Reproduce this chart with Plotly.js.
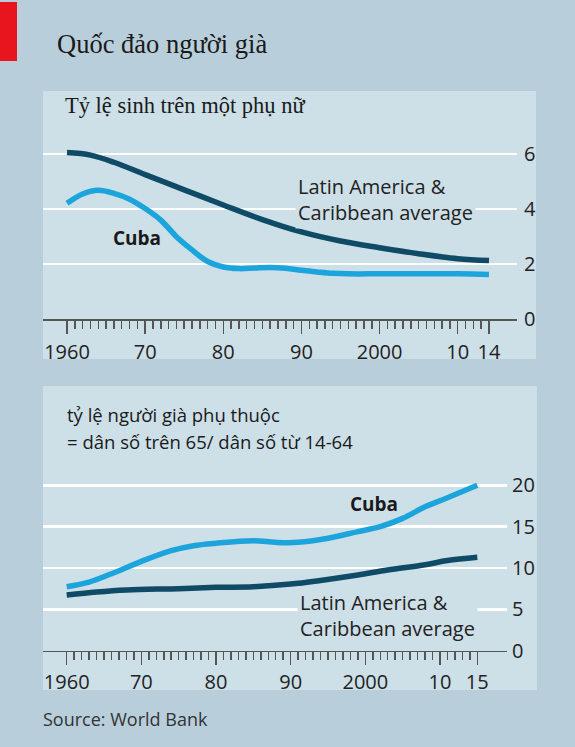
<!DOCTYPE html>
<html>
<head>
<meta charset="utf-8">
<script src="https://cdn.plot.ly/plotly-3.0.1.min.js"></script>
<style>html,body{margin:0;padding:0;background:#b8cfdb;}#chart{width:575px;height:747px;}</style>
</head>
<body>
<div id="chart"></div>
<script>
// ---- Data ----
const fertCubaYears = [1960,1962,1964,1966,1968,1970,1972,1974,1976,1978,1980,1982,1984,1986,1988,1990,1992,1994,1996,2000,2005,2010,2014];
const fertCuba      = [4.21,4.55,4.68,4.57,4.36,4.02,3.6,3.0,2.52,2.1,1.9,1.84,1.86,1.88,1.85,1.78,1.72,1.67,1.65,1.65,1.65,1.65,1.63];
const fertLatamYears = [1960,1963,1966,1970,1975,1980,1985,1990,1995,2000,2005,2010,2014];
const fertLatam      = [6.05,5.96,5.7,5.25,4.7,4.15,3.62,3.17,2.84,2.6,2.38,2.2,2.13];

const depCubaYears = [1960,1963,1966,1970,1974,1977,1980,1985,1988,1991,1995,1999,2002,2005,2008,2011,2015];
const depCuba      = [7.74,8.3,9.3,10.8,12.1,12.7,13.0,13.3,13.1,13.1,13.6,14.4,15.0,16.0,17.4,18.5,20.0];
const depLatamYears = [1960,1964,1968,1975,1980,1985,1990,1994,1999,2003,2008,2011,2015];
const depLatam      = [6.73,7.1,7.35,7.5,7.66,7.74,8.06,8.5,9.15,9.76,10.4,10.9,11.3];

const xTickVals1 = [1960,1970,1980,1990,2000,2010,2014];
const xTickText1 = ["1960","70","80","90","2000","10","14"];
const xTickVals2 = [1960,1970,1980,1990,2000,2010,2015];
const xTickText2 = ["1960","70","80","90","2000","10","15"];
const yTickVals1 = [0,2,4,6];
const yTickVals2 = [0,5,10,15,20];

const title = "Quốc đảo người già";
const subtitle1 = "Tỷ lệ sinh trên một phụ nữ";
const subtitle2a = "tỷ lệ người già phụ thuộc";
const subtitle2b = "= dân số trên 65/ dân số từ 14-64";
const labelCuba = "Cuba";
const labelLatam = "Latin America &<br>Caribbean average";
const source = "Source: World Bank";

// ---- Layout helpers ----
const W = 575, H = 747;
const px = x => x / W;
const py = y => 1 - y / H;

const OUTER = "#b8cfdb", PANEL = "#cddfe7";
const LIGHT = "#1ca5dd", DARK = "#0f4a66";
const SANS = "'Open Sans', sans-serif";

function allYears(a, b) { const r = []; for (let y = a; y <= b; y++) r.push(y); return r; }

const lineOpts = (c) => ({color: c, width: 5.5, shape: "spline", smoothing: 1});

const traces = [
  {x: fertLatamYears, y: fertLatam, xaxis: "x", yaxis: "y", mode: "lines", line: lineOpts(DARK), cliponaxis: false, hoverinfo: "skip"},
  {x: fertCubaYears, y: fertCuba, xaxis: "x", yaxis: "y", mode: "lines", line: lineOpts(LIGHT), cliponaxis: false, hoverinfo: "skip"},
  {x: depLatamYears, y: depLatam, xaxis: "x2", yaxis: "y2", mode: "lines", line: lineOpts(DARK), cliponaxis: false, hoverinfo: "skip"},
  {x: depCubaYears, y: depCuba, xaxis: "x2", yaxis: "y2", mode: "lines", line: lineOpts(LIGHT), cliponaxis: false, hoverinfo: "skip"}
];

const tickFont = {family: SANS, size: 20, color: "#222"};

const xCommon = {
  showgrid: false, zeroline: false, showline: true, linecolor: "#555", linewidth: 1.5,
  ticks: "outside", ticklen: 13, tickwidth: 1.5, tickcolor: "#555",
  tickmode: "array", tickfont: tickFont, fixedrange: true, ticklabelstandoff: 1
};
const yCommon = {
  side: "right", showgrid: true, gridcolor: "#ffffff", gridwidth: 2.5, zeroline: false,
  showline: false, ticks: "", tickmode: "array", tickfont: tickFont, fixedrange: true
};

// panel 1: x 43..517 px, 1960 at 67, 7.81 px/yr ; y 0 at 319.3, 27.55 px/unit
const p1ppy = 7.81, p1ppu = 27.55;
const x1Range = [1960 - (67 - 43) / p1ppy, 2014 + (517 - 489) / p1ppy];
const y1Top = 140;
const y1Range = [0, (319.3 - y1Top) / p1ppu];
// panel 2: x 43..507 px, 1960 at 66.7, 7.465 px/yr ; y 0 at 650.7, 8.27 px/unit
const p2ppy = 7.465, p2ppu = 8.27;
const x2Range = [1960 - (66.7 - 43) / p2ppy, 2015 + (507 - 477.3) / p2ppy];
const y2Top = 470;
const y2Range = [0, (650.7 - y2Top) / p2ppu];

const minor = (a, b) => ({tickmode: "array", tickvals: allYears(a, b), ticks: "outside", ticklen: 8,
  tickwidth: 1.5, tickcolor: "#555", showgrid: false});

const layout = {
  width: W, height: H,
  margin: {l: 0, r: 0, t: 0, b: 0, pad: 0},
  paper_bgcolor: OUTER, plot_bgcolor: "rgba(0,0,0,0)",
  showlegend: false,
  xaxis: Object.assign({}, xCommon, {domain: [px(43), px(517)], range: x1Range, anchor: "y",
    tickvals: xTickVals1, ticktext: xTickText1, minor: minor(1960, 2014)}),
  yaxis: Object.assign({}, yCommon, {domain: [py(319.3), py(y1Top)], range: y1Range, anchor: "x",
    tickvals: yTickVals1, ticklabelstandoff: 6}),
  xaxis2: Object.assign({}, xCommon, {domain: [px(43), px(507)], range: x2Range, anchor: "y2",
    tickvals: xTickVals2, ticktext: xTickText2, minor: minor(1960, 2015), ticklabelstandoff: 0}),
  yaxis2: Object.assign({}, yCommon, {domain: [py(650.7), py(y2Top)], range: y2Range, anchor: "x2",
    tickvals: yTickVals2, ticklabelstandoff: 4}),
  shapes: [
    {type: "rect", xref: "paper", yref: "paper", x0: px(0), x1: px(17), y0: py(61), y1: py(2),
      fillcolor: "#e8141e", line: {width: 0}, layer: "below"},
    {type: "rect", xref: "paper", yref: "paper", x0: px(43), x1: px(536), y0: py(359), y1: py(91),
      fillcolor: PANEL, line: {width: 0}, layer: "below"},
    {type: "rect", xref: "paper", yref: "paper", x0: px(43), x1: px(537), y0: py(690), y1: py(386),
      fillcolor: PANEL, line: {width: 0}, layer: "below"}
  ],
  annotations: [
    {text: title, xref: "paper", yref: "paper", x: px(55), y: py(44), xanchor: "left", yanchor: "middle",
      showarrow: false, font: {family: "Liberation Serif, serif", size: 26.5, color: "#1a1a1a"}},
    {text: subtitle1, xref: "paper", yref: "paper", x: px(63), y: py(106), xanchor: "left", yanchor: "middle",
      showarrow: false, font: {family: "Liberation Serif, serif", size: 22.5, color: "#1a1a1a"}},
    {text: subtitle2a, xref: "paper", yref: "paper", x: px(65), y: py(414), xanchor: "left", yanchor: "middle",
      showarrow: false, font: {family: SANS, size: 18.5, color: "#1a1a1a"}},
    {text: subtitle2b, xref: "paper", yref: "paper", x: px(65), y: py(441), xanchor: "left", yanchor: "middle",
      showarrow: false, font: {family: SANS, size: 18.5, color: "#1a1a1a"}},
    {text: source, xref: "paper", yref: "paper", x: px(41), y: py(719), xanchor: "left", yanchor: "middle",
      showarrow: false, font: {family: SANS, size: 18, color: "#333"}},
    {text: "<b>" + labelCuba + "</b>", xref: "x", yref: "y", x: 1969.0, y: 2.95, xanchor: "center", yanchor: "middle",
      showarrow: false, font: {family: SANS, size: 19, color: "#1a1a1a"}},
    {text: labelLatam, xref: "x", yref: "y", x: 1989.2, y: 4.35, xanchor: "left", yanchor: "middle", align: "left",
      showarrow: false, bgcolor: PANEL, borderpad: 2, font: {family: SANS, size: 20, color: "#222"}},
    {text: "<b>" + labelCuba + "</b>", xref: "x2", yref: "y2", x: 2001.15, y: 17.7, xanchor: "center", yanchor: "middle",
      showarrow: false, font: {family: SANS, size: 19, color: "#1a1a1a"}},
    {text: labelLatam, xref: "x2", yref: "y2", x: 1990.9, y: 4.2, xanchor: "left", yanchor: "middle", align: "left",
      showarrow: false, bgcolor: PANEL, borderpad: 2, font: {family: SANS, size: 20, color: "#222"}}
  ]
};

Plotly.newPlot("chart", traces, layout, {displayModeBar: false, staticPlot: true});
</script>
</body>
</html>
